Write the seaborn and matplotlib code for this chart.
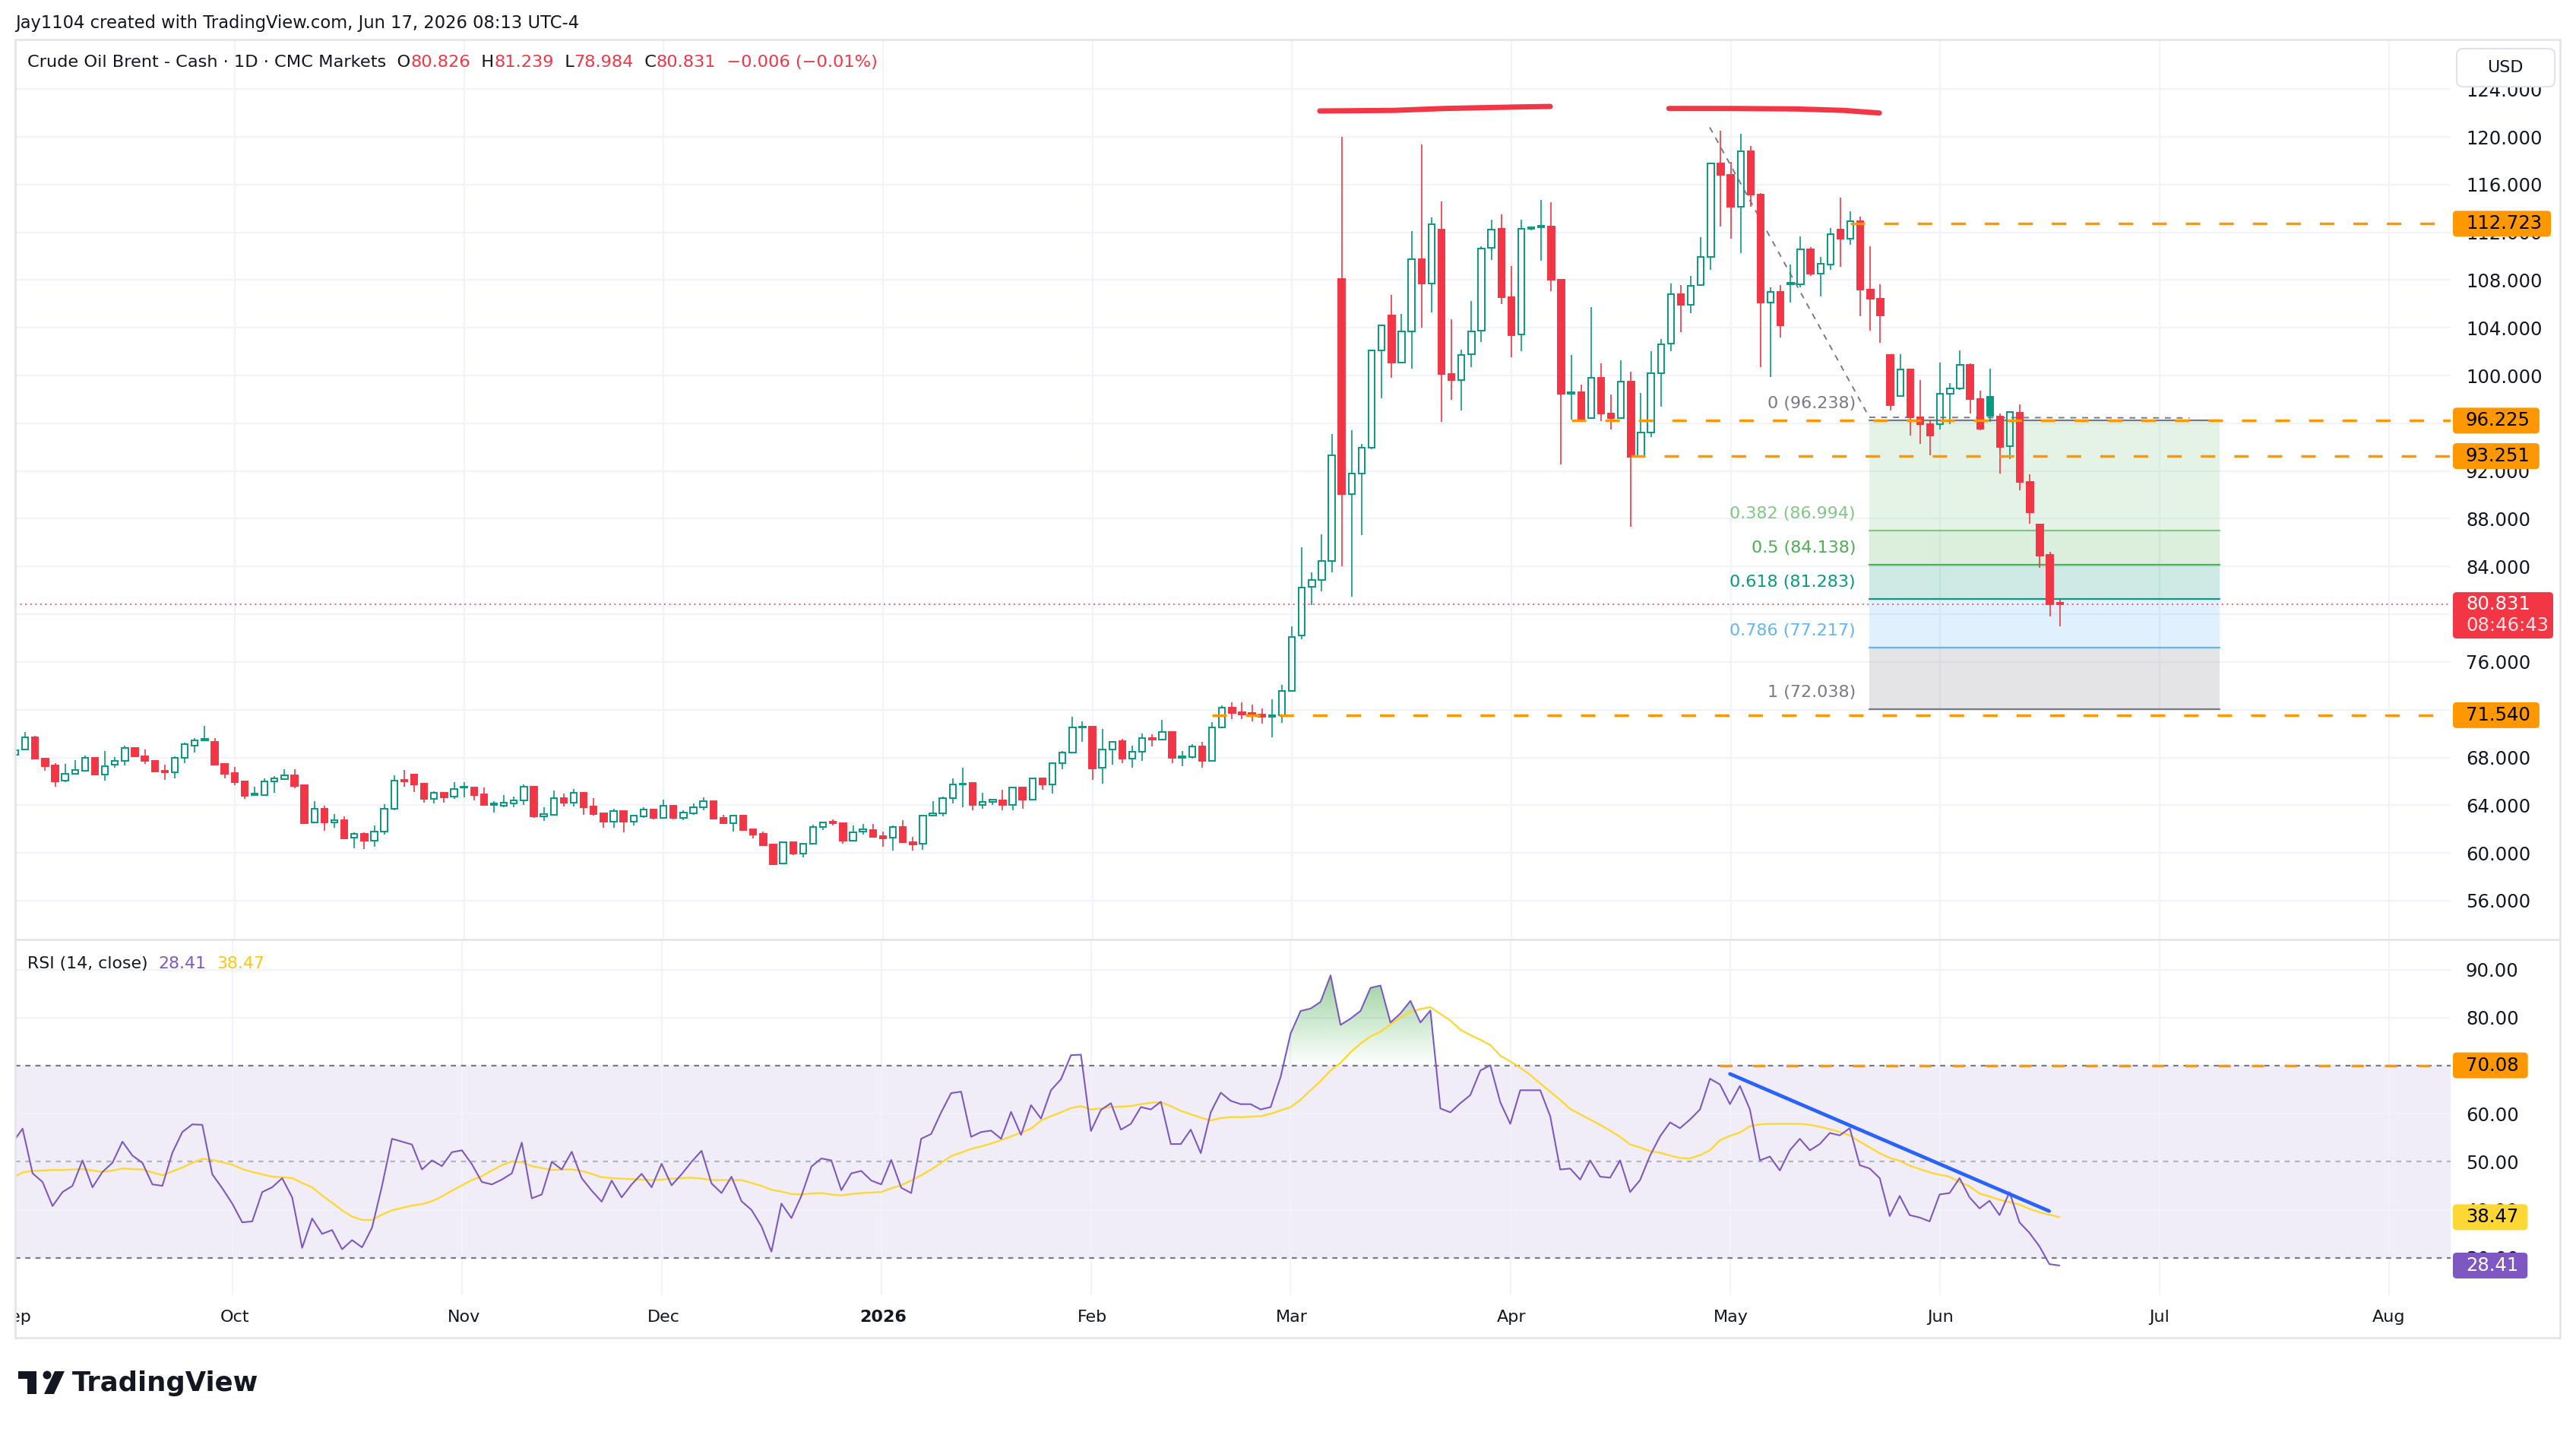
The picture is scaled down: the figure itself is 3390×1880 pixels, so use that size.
import numpy as np
import pandas as pd
import matplotlib
matplotlib.use("Agg")
import matplotlib.pyplot as plt
from matplotlib.patches import FancyBboxPatch, Rectangle, Circle, Polygon
from matplotlib.lines import Line2D
from matplotlib.path import Path
from matplotlib.transforms import IdentityTransform, blended_transform_factory
from matplotlib.ticker import FormatStrFormatter
from matplotlib.colors import to_rgb
import seaborn as sns

# ---------------- data ----------------
# daily bars, 2025-09-01 .. 2026-06-17, index 0..205
opens = [68.2, 68.69, 69.68, 67.90, 67.33, 66.07, 66.60, 66.88, 67.94, 66.56,
         67.41, 67.73, 68.77, 68.11, 67.69, 66.86, 66.73, 67.94, 69.00, 69.54,
         69.28, 67.45, 66.69, 65.99, 64.86, 64.86, 65.97, 66.20, 66.50, 65.67,
         62.54, 63.69, 62.56, 62.73, 61.25, 61.63, 61.04, 61.78, 63.67, 66.11,
         66.56, 65.80, 64.54, 65.01, 64.69, 65.46, 65.48, 64.90, 64.14, 63.97,
         64.14, 64.39, 65.54, 63.08, 63.22, 64.58, 64.22, 65.03, 63.88, 63.33,
         62.63, 63.48, 62.63, 63.08, 63.63, 62.95, 63.93, 62.95, 63.33, 63.86,
         64.33, 62.93, 62.50, 63.12, 61.97, 61.59, 60.70, 59.12, 60.87, 59.97,
         60.74, 62.18, 62.65, 62.48, 61.04, 61.82, 61.91, 61.40, 61.25, 62.20,
         60.93, 60.76, 63.10, 63.35, 64.58, 65.71, 65.86, 64.05, 64.26, 64.39,
         64.05, 65.50, 64.48, 66.22, 65.71, 67.52, 68.41, 70.49, 70.56, 67.13,
         68.64, 69.34, 67.92, 68.47, 69.62, 69.49, 70.11, 67.98, 68.05, 68.90,
         67.69, 70.49, 72.19, 71.77, 71.70, 71.62, 71.40, 71.55, 73.60, 78.20,
         82.30, 82.90, 84.44, 108.10, 90.04, 91.76, 93.95, 102.10, 105.03, 101.08,
         103.70, 109.78, 107.73, 112.23, 100.16, 99.62, 101.81, 103.75, 110.70, 112.30,
         106.56, 103.46, 112.30, 112.42, 112.50, 108.03, 98.45, 98.60, 96.44, 99.84,
         96.84, 96.44, 99.47, 93.22, 95.23, 100.17, 102.65, 106.82, 105.94, 107.59,
         109.93, 117.75, 116.80, 114.13, 118.81, 115.16, 106.09, 107.00, 107.66, 107.66,
         110.59, 108.57, 109.31, 112.23, 111.50, 112.96, 107.19, 106.45, 101.70, 98.30,
         100.50, 96.50, 95.95, 95.95, 98.50, 98.90, 100.90, 98.00, 98.23, 96.55,
         94.10, 96.90, 91.08, 87.50, 84.98, 80.826]
highs = [68.7, 70.13, 69.81, 67.92, 67.50, 67.45, 67.77, 68.15, 67.98, 68.54,
         68.05, 69.00, 68.85, 68.64, 67.75, 67.41, 68.09, 69.22, 69.64, 70.64,
         69.64, 67.50, 67.20, 66.05, 65.54, 66.22, 66.45, 66.99, 66.99, 65.77,
         64.33, 63.95, 63.27, 63.05, 61.72, 61.70, 62.29, 64.07, 66.50, 66.94,
         66.60, 65.85, 65.18, 65.05, 65.92, 65.92, 65.52, 65.50, 64.33, 64.86,
         64.69, 65.75, 65.60, 63.84, 65.22, 64.97, 65.33, 65.12, 64.58, 63.40,
         63.69, 63.55, 63.20, 63.80, 63.70, 64.44, 64.00, 63.58, 64.12, 64.65,
         64.39, 63.20, 63.15, 63.20, 62.00, 61.78, 60.75, 60.93, 60.93, 60.82,
         62.35, 62.63, 62.84, 62.50, 62.27, 62.42, 62.42, 61.78, 62.27, 62.73,
         61.33, 63.16, 64.37, 64.69, 66.24, 67.13, 65.90, 65.03, 64.54, 65.29,
         65.54, 65.55, 66.31, 66.31, 67.58, 68.52, 71.40, 71.02, 70.60, 70.39,
         69.35, 69.54, 69.00, 70.00, 69.96, 71.17, 70.15, 68.52, 69.11, 69.32,
         70.96, 72.36, 72.62, 72.62, 72.40, 72.08, 72.87, 74.10, 79.00, 85.60,
         83.50, 86.70, 95.10, 120.02, 95.40, 94.30, 102.20, 104.30, 106.75, 105.17,
         112.12, 119.36, 113.25, 114.60, 104.74, 102.18, 106.27, 110.84, 113.07, 113.51,
         109.20, 113.04, 112.50, 114.72, 114.50, 108.10, 101.74, 99.25, 105.72, 101.00,
         98.41, 101.26, 100.35, 98.52, 102.07, 103.09, 107.73, 107.59, 108.32, 111.57,
         117.83, 120.53, 117.90, 120.27, 119.25, 115.30, 107.40, 107.59, 109.30, 111.68,
         110.77, 109.93, 112.34, 114.90, 113.77, 113.33, 110.84, 107.66, 101.80, 101.80,
         100.60, 99.60, 96.30, 101.10, 99.40, 102.10, 101.00, 98.70, 100.60, 96.80,
         96.95, 97.60, 91.70, 87.60, 85.20, 81.239]
lows = [68.0, 68.58, 67.85, 66.88, 65.54, 65.92, 66.56, 66.82, 66.50, 66.07,
        67.13, 67.30, 68.05, 67.45, 66.77, 66.14, 66.24, 67.52, 68.41, 69.36,
        67.30, 66.24, 65.67, 64.52, 64.82, 64.82, 65.03, 66.15, 65.43, 62.45,
        62.50, 61.84, 62.10, 61.16, 60.38, 60.34, 60.53, 61.52, 63.60, 65.56,
        65.12, 64.22, 64.12, 64.22, 64.54, 64.65, 64.39, 63.98, 63.37, 63.80,
        63.80, 64.05, 62.95, 62.67, 63.18, 63.90, 63.90, 63.16, 63.12, 62.10,
        62.10, 61.72, 62.27, 62.95, 62.84, 62.90, 62.84, 62.73, 63.16, 63.58,
        62.80, 62.42, 61.78, 61.90, 61.21, 60.62, 58.97, 59.04, 59.80, 59.63,
        60.70, 61.93, 62.31, 60.78, 61.00, 61.52, 61.25, 60.51, 60.19, 60.82,
        60.19, 60.29, 63.05, 63.05, 64.12, 63.80, 63.58, 63.73, 64.05, 63.58,
        63.58, 63.69, 64.45, 65.29, 64.97, 66.99, 68.35, 69.32, 66.14, 65.82,
        67.41, 67.52, 67.16, 67.73, 68.90, 69.45, 67.52, 67.26, 67.88, 67.16,
        67.65, 70.45, 71.23, 71.23, 71.02, 70.81, 69.68, 70.92, 73.50, 77.90,
        80.80, 81.90, 83.53, 84.00, 81.50, 86.60, 93.80, 98.08, 99.80, 101.00,
        100.60, 104.00, 105.28, 96.14, 97.97, 97.06, 100.71, 102.80, 109.67, 106.02,
        101.56, 102.07, 112.20, 109.60, 107.10, 92.56, 96.33, 96.14, 96.40, 96.20,
        95.50, 96.40, 87.30, 93.20, 94.86, 97.42, 102.07, 103.64, 105.21, 107.50,
        108.83, 112.52, 111.50, 110.29, 114.13, 100.71, 99.87, 103.20, 106.09, 107.40,
        108.32, 106.64, 108.87, 109.12, 110.95, 104.99, 103.75, 102.72, 97.10, 98.20,
        95.00, 94.30, 93.30, 95.50, 95.90, 98.80, 96.80, 95.40, 96.10, 91.80,
        93.00, 90.40, 87.60, 83.86, 79.80, 78.984]
closes = [68.6, 69.68, 67.88, 67.28, 66.01, 66.60, 66.92, 67.94, 66.56, 67.24,
          67.73, 68.77, 68.11, 67.73, 66.82, 66.77, 67.94, 69.11, 69.43, 69.43,
          67.37, 66.62, 65.92, 64.78, 64.97, 65.99, 66.24, 66.48, 65.60, 62.50,
          63.69, 62.56, 62.73, 61.21, 61.63, 61.04, 61.76, 63.67, 66.03, 66.01,
          65.75, 64.54, 65.01, 64.65, 65.33, 65.54, 64.86, 64.01, 64.01, 64.22,
          64.39, 65.54, 63.08, 63.24, 64.58, 64.22, 65.03, 63.84, 63.24, 62.63,
          63.48, 62.63, 63.12, 63.63, 62.95, 63.93, 62.95, 63.37, 63.86, 64.33,
          62.88, 62.50, 63.12, 61.93, 61.52, 60.65, 59.08, 60.87, 59.93, 60.74,
          62.20, 62.56, 62.52, 61.04, 61.74, 61.95, 61.35, 61.21, 62.20, 60.89,
          60.72, 63.10, 63.35, 64.58, 65.71, 65.82, 64.05, 64.26, 64.44, 64.05,
          65.50, 64.48, 66.22, 65.71, 67.52, 68.41, 70.49, 70.60, 67.09, 68.64,
          69.32, 67.92, 68.47, 69.62, 69.49, 70.11, 67.98, 68.09, 68.90, 67.69,
          70.49, 72.15, 71.70, 71.62, 71.55, 71.38, 71.55, 73.57, 78.10, 82.25,
          82.87, 84.44, 93.33, 90.04, 91.76, 93.95, 102.10, 104.20, 101.08, 103.70,
          109.78, 107.73, 112.71, 100.16, 99.62, 101.74, 103.71, 110.66, 112.23, 106.56,
          103.38, 112.30, 112.42, 112.50, 108.03, 98.45, 98.60, 96.40, 99.84, 96.80,
          96.44, 99.47, 93.22, 95.23, 100.17, 102.61, 106.82, 105.94, 107.55, 109.93,
          117.75, 116.80, 114.13, 118.81, 115.16, 106.09, 107.00, 104.19, 107.73, 110.59,
          108.57, 109.38, 111.87, 111.50, 112.96, 107.19, 106.45, 105.03, 97.50, 100.50,
          96.50, 95.95, 95.00, 98.50, 98.90, 100.90, 98.00, 95.55, 96.60, 94.05,
          96.93, 91.08, 88.56, 84.94, 80.837, 80.831]

rsi = [54.0, 56.9, 47.6, 45.8, 40.8, 43.7, 45.0, 50.3, 44.7, 47.9,
       49.8, 54.2, 51.3, 49.8, 45.3, 45.0, 51.9, 56.2, 57.8, 57.7,
       47.4, 44.5, 41.3, 37.4, 37.6, 43.7, 44.7, 46.6, 42.6, 32.1,
       38.2, 35.0, 35.8, 31.8, 33.7, 32.2, 36.3, 45.0, 54.8, 54.2,
       53.6, 48.4, 50.3, 49.1, 52.0, 52.4, 49.5, 45.8, 45.3, 46.3,
       47.6, 54.0, 42.4, 43.2, 50.0, 48.4, 52.1, 46.6, 44.0, 41.7,
       46.1, 42.6, 45.3, 47.5, 44.7, 49.6, 45.1, 47.4, 50.0, 52.3,
       45.5, 43.5, 46.9, 41.8, 40.0, 36.6, 31.3, 41.3, 38.3, 42.9,
       49.0, 50.7, 50.3, 44.1, 47.6, 48.1, 46.1, 45.3, 50.4, 44.6,
       43.5, 54.8, 55.8, 60.3, 64.3, 64.6, 55.2, 56.2, 56.5, 54.8,
       60.4, 55.6, 61.8, 59.0, 64.9, 67.2, 72.2, 72.3, 56.4, 60.8,
       62.2, 56.7, 57.9, 61.4, 60.9, 62.5, 53.7, 53.7, 56.7, 51.8,
       60.3, 64.4, 62.7, 62.0, 62.0, 60.9, 61.4, 67.7, 76.7, 81.4,
       81.9, 83.3, 88.8, 78.5, 79.8, 81.4, 86.2, 86.7, 79.0, 80.9,
       83.5, 79.0, 81.5, 61.1, 60.3, 62.2, 63.9, 69.0, 70.1, 62.4,
       57.9, 64.9, 64.9, 64.9, 59.5, 48.4, 48.6, 46.3, 50.3, 46.9,
       46.7, 50.3, 43.7, 46.2, 51.3, 55.3, 58.2, 57.0, 58.8, 60.9,
       67.3, 66.1, 62.0, 65.8, 60.9, 50.3, 51.1, 48.2, 52.4, 54.8,
       52.4, 53.7, 56.0, 55.5, 57.0, 49.3, 48.6, 46.6, 38.7, 42.9,
       38.9, 38.4, 37.6, 43.2, 43.5, 46.6, 42.6, 40.3, 41.9, 38.9,
       43.7, 37.4, 35.2, 32.4, 28.7, 28.41]
rsi_ma = [46.6, 47.8, 48.1, 48.2, 48.3, 48.3, 48.4, 48.5, 48.2, 47.9,
          48.2, 48.6, 48.5, 48.4, 47.8, 47.2, 48.0, 48.8, 49.8, 50.6,
          50.4, 49.9, 49.4, 48.5, 47.9, 47.4, 46.9, 46.8, 46.6, 45.6,
          44.7, 43.0, 41.5, 39.9, 38.6, 37.9, 37.9, 39.0, 39.9, 40.4,
          40.9, 41.2, 41.8, 42.8, 44.0, 45.1, 46.2, 47.0, 48.2, 49.3,
          50.1, 49.9, 49.1, 48.7, 48.3, 48.4, 48.4, 48.1, 47.5, 46.8,
          46.6, 46.5, 46.4, 46.3, 46.2, 46.3, 46.5, 46.6, 46.7, 46.5,
          46.2, 46.2, 46.2, 46.2, 45.6, 45.0, 44.2, 43.8, 43.3, 43.2,
          43.4, 43.5, 43.2, 43.0, 43.3, 43.5, 43.6, 43.7, 44.5, 45.1,
          46.1, 47.2, 48.4, 49.8, 51.2, 51.9, 52.7, 53.2, 53.8, 54.5,
          55.3, 56.1, 56.9, 58.6, 59.5, 60.3, 61.2, 61.6, 60.9, 61.1,
          61.4, 61.5, 61.6, 62.0, 62.3, 62.4, 61.6, 60.6, 59.9, 59.2,
          58.6, 59.1, 59.3, 59.3, 59.4, 59.5, 60.0, 60.7, 61.4, 62.9,
          64.9, 66.8, 69.0, 70.6, 72.8, 74.6, 76.1, 77.1, 78.6, 80.1,
          81.2, 81.8, 82.2, 80.8, 79.4, 77.5, 76.4, 75.4, 74.3, 72.1,
          70.9, 69.6, 68.1, 66.3, 64.6, 62.9, 61.0, 59.9, 58.8, 57.7,
          56.5, 55.2, 53.6, 53.0, 52.2, 51.9, 51.3, 50.8, 50.7, 51.4,
          52.4, 54.5, 55.4, 56.1, 57.4, 57.8, 57.9, 57.9, 57.9, 57.9,
          57.7, 57.3, 56.8, 56.2, 55.5, 54.2, 53.0, 51.8, 50.8, 50.2,
          49.2, 48.5, 47.8, 47.3, 46.9, 45.8, 44.9, 43.4, 42.8, 42.1,
          41.6, 41.1, 40.2, 39.5, 39.0, 38.47]

price_ticks = list(range(56, 125, 4))
rsi_ticks = [30, 40, 50, 60, 70, 80, 90]

# horizontal levels drawn on the chart (price, first bar)
level_prices = [112.723, 96.225, 93.251, 71.540]
level_starts = [184, 156, 162, 120]

# fib retracement
fib_levels = [0, 0.382, 0.5, 0.618, 0.786, 1]
fib_prices = [96.238, 86.994, 84.138, 81.283, 77.217, 72.038]
fib_colors = ["#787b86", "#81c784", "#4caf50", "#089981", "#64b5f6", "#787b86"]
fib_span = [185.9, 221.0]
fib_trend_x = [169.9, 185.9, 218.0]
fib_trend_y = [120.8, 96.5, 96.45]

# hand drawn tops
top1_x = [130.8, 138.2, 143.3, 150.9, 153.9]
top1_y = [122.17, 122.22, 122.38, 122.51, 122.55]
top2_x = [165.8, 172.0, 178.6, 183.3, 186.9]
top2_y = [122.38, 122.38, 122.34, 122.22, 122.0]

rsi_level = 70.08
rsi_level_start = 171
rsi_trend_x = [172.0, 203.97]
rsi_trend_y = [68.3, 39.75]

last_price = 80.831
countdown = "08:46:43"

# ---------------- style ----------------
GREEN, RED = "#089981", "#f23645"
ORANGE, PURPLE, YELLOW = "#ff9800", "#7e57c2", "#fdd835"
TXT, GRID, FRAME = "#131722", "#f0f3fa", "#e0e3eb"

sns.set_theme(style="white")
plt.rcParams["font.family"] = ["DejaVu Sans"]

W, H = 3390, 1880
fig = plt.figure(figsize=(W / 100, H / 100), dpi=100)


def fpos(x0, y0, x1, y1):
    return [x0 / W, 1 - y1 / H, (x1 - x0) / W, (y1 - y0) / H]


ax = fig.add_axes(fpos(20, 54, 3225, 1235))
ax_r = fig.add_axes(fpos(20, 1237, 3225, 1704))
ax_t = fig.add_axes(fpos(20, 1704, 3225, 1760))

dates = pd.bdate_range("2025-09-01", "2026-08-31")
dates = dates[~dates.isin(pd.to_datetime(["2025-12-25", "2026-01-01"]))]
month_pos = [i for i in range(len(dates)) if i == 0 or dates[i].month != dates[i - 1].month]
month_lab = ["2026" if dates[i].month == 1 else dates[i].strftime("%b") for i in month_pos]

XMIN, XMAX = 0.26, 244.18

for a in (ax, ax_r, ax_t):
    a.set_facecolor("none")
    for s in a.spines.values():
        s.set_visible(False)
    a.set_xlim(XMIN, XMAX)
    a.set_xticks(month_pos)
    a.tick_params(axis="x", length=0, labelbottom=False)

for a in (ax, ax_r):
    a.grid(True, color=GRID, lw=1.6, zorder=0)
    a.set_axisbelow(True)
    a.yaxis.tick_right()
    a.tick_params(axis="y", length=0, pad=14.4, labelsize=17.5, labelcolor=TXT)
ax_t.set_yticks([])

# ---------------- price pane ----------------
o, h, l, c = map(np.array, (opens, highs, lows, closes))
idx = np.arange(len(c))
prev = np.r_[o[0], c[:-1]]
col = np.where(c >= prev, GREEN, RED)
hollow = c > o
top = np.maximum(o, c)
bot = np.minimum(o, c)
ax.vlines(idx, top, h, colors=col, lw=1.2, zorder=3)
ax.vlines(idx, l, bot, colors=col, lw=1.2, zorder=3)
face = ["none" if hw else cc for hw, cc in zip(hollow, col)]
ax.bar(idx, np.maximum(top - bot, 0.12), bottom=bot, width=0.64, color=face,
       edgecolor=col, linewidth=1.4, zorder=4)

# fib retracement
for k in range(1, len(fib_prices)):
    ax.fill_between(fib_span, fib_prices[k - 1], fib_prices[k], color=fib_colors[k],
                    alpha=0.2, lw=0, zorder=1)
for lv, p, fc in zip(fib_levels, fib_prices, fib_colors):
    ax.plot(fib_span, [p, p], color=fc, lw=1.6, zorder=2)
    ax.annotate(f"{lv:g} ({p:.3f})", xy=(fib_span[0], p), xytext=(-18, 22),
                textcoords="offset pixels", ha="right", va="center", color=fc,
                fontsize=16, zorder=6)
ax.plot(fib_trend_x, fib_trend_y, color="#787b86", lw=1.4, ls=(0, (4, 4)), zorder=2)

for p, s in zip(level_prices, level_starts):
    ax.plot([s, XMAX], [p, p], color=ORANGE, lw=2.5, ls=(0, (5.5, 7.2)), zorder=5)

ax.axhline(last_price, color=RED, lw=1.1, ls=(0, (1.3, 3)), zorder=5)

for tx, ty in ((top1_x, top1_y), (top2_x, top2_y)):
    ax.plot(tx, ty, color=RED, lw=5, solid_capstyle="round", zorder=6)

ax.set_ylim(52.81, 128.03)
ax.set_yticks(price_ticks)
ax.yaxis.set_major_formatter(FormatStrFormatter("%.3f"))

# ---------------- RSI pane ----------------
rsi_a = np.array(rsi)
ax_r.axhspan(30, 70, color=PURPLE, alpha=0.1, lw=0, zorder=0)
for v, cc in ((70, "#787b86"), (50, "#b2b5be"), (30, "#787b86")):
    ax_r.axhline(v, color=cc, lw=1.6, ls=(0, (3, 3)), zorder=1)

ob = ax_r.fill_between(idx, 70, rsi_a, where=rsi_a >= 70, interpolate=True,
                       color="none", lw=0)
clip = Path.make_compound_path(*ob.get_paths())
grad = np.zeros((256, 1, 4))
grad[..., :3] = to_rgb("#4caf50")
grad[:, 0, 3] = np.linspace(0.0, 0.6, 256)
im = ax_r.imshow(grad, extent=(0, len(idx) - 1, 70, 90), origin="lower",
                 aspect="auto", zorder=2, interpolation="bilinear")
im.set_clip_path(clip, transform=ax_r.transData)

sns.lineplot(x=idx, y=rsi_ma, ax=ax_r, color=YELLOW, lw=1.7, zorder=3)
sns.lineplot(x=idx, y=rsi, ax=ax_r, color=PURPLE, lw=1.5, zorder=4)
ax_r.plot([rsi_level_start, XMAX], [rsi_level, rsi_level], color=ORANGE, lw=2.5,
          ls=(0, (4.6, 8)), zorder=5)
ax_r.plot(rsi_trend_x, rsi_trend_y, color="#2962ff", lw=3.4, solid_capstyle="round", zorder=6)

ax_r.set_xlim(XMIN, XMAX)
ax_r.set_ylim(22.23, 96.12)
ax_r.set_yticks(rsi_ticks)
ax_r.yaxis.set_major_formatter(FormatStrFormatter("%.2f"))
ax_r.set_xlabel("")
ax_r.set_ylabel("")

# ---------------- time axis ----------------
tt = blended_transform_factory(ax_t.transData, ax_t.transAxes)
for pos, lab in zip(month_pos, month_lab):
    ax_t.text(pos, 0.48, lab, transform=tt, ha="center", va="center", fontsize=16,
              color=TXT, fontweight="bold" if lab == "2026" else "normal", clip_on=True)

# ---------------- frame ----------------
for (x0, y0, x1, y1) in ((20, 52, 3369, 52), (20, 1236, 3369, 1236), (20, 1760, 3369, 1760),
                         (20, 52, 20, 1760), (3369, 52, 3369, 1760)):
    fig.add_artist(Line2D([x0 / W, x1 / W], [1 - y0 / H, 1 - y1 / H], color=FRAME, lw=1.8))

# ---------------- tags on the scales ----------------
rend = fig.canvas.get_renderer()


def tag(axis, value, label, fc, tc, hgt=34):
    y = axis.transData.transform((0, value))[1]
    t = fig.text(3245 / W, y / H, label, color=tc, fontsize=17.5, va="center", ha="left", zorder=7)
    bb = t.get_window_extent(rend)
    fig.add_artist(FancyBboxPatch((3228, y - hgt / 2), bb.x1 + 12 - 3228, hgt,
                                  boxstyle="round,pad=0,rounding_size=5",
                                  transform=IdentityTransform(), fc=fc, ec="none", zorder=6))


for p in level_prices:
    tag(ax, p, f"{p:.3f}", ORANGE, "black")

y_last = ax.transData.transform((0, last_price))[1]
fig.add_artist(FancyBboxPatch((3228, y_last - 45), 132, 61, boxstyle="round,pad=0,rounding_size=5",
                              transform=IdentityTransform(), fc=RED, ec="none", zorder=6))
fig.text(3245 / W, y_last / H, f"{last_price:.3f}", color="white", fontsize=17.5, va="center", zorder=7)
fig.text(3245 / W, (y_last - 28) / H, countdown, color="#fde3e5", fontsize=17.5, va="center", zorder=7)

tag(ax_r, rsi_level, f"{rsi_level:.2f}", ORANGE, "black")
tag(ax_r, rsi_ma[-1], f"{rsi_ma[-1]:.2f}", YELLOW, "black")
tag(ax_r, rsi[-1], f"{rsi[-1]:.2f}", PURPLE, "white")

fig.add_artist(FancyBboxPatch((3233, H - 114), 129, 50, boxstyle="round,pad=0,rounding_size=8",
                              transform=IdentityTransform(), fc="white", ec=FRAME, lw=1.5, zorder=6))
fig.text(3297 / W, 1 - 89 / H, "USD", ha="center", va="center", fontsize=16, color=TXT, zorder=7)


# ---------------- header / legends ----------------
def segments(x, y, parts, size):
    for s, cc in parts:
        t = fig.text(x / W, 1 - y / H, s, color=cc, fontsize=size, va="center", ha="left")
        x = t.get_window_extent(rend).x1


fig.text(20 / W, 1 - 30 / H, "Jay1104 created with TradingView.com, Jun 17, 2026 08:13 UTC-4",
         fontsize=16.3, color=TXT, va="center")
o_, h_, l_, c_ = opens[-1], highs[-1], lows[-1], closes[-1]
chg = c_ - closes[-2]
segments(36, 82, [("Crude Oil Brent - Cash · 1D · CMC Markets  O", TXT), (f"{o_:.3f}", RED),
                  ("  H", TXT), (f"{h_:.3f}", RED), ("  L", TXT), (f"{l_:.3f}", RED),
                  ("  C", TXT), (f"{c_:.3f}", RED),
                  (f"  \u2212{abs(chg):.3f} (\u2212{abs(chg) / closes[-2] * 100:.2f}%)", RED)], 16.2)
segments(36, 1268, [("RSI (14, close)  ", TXT), (f"{rsi[-1]:.2f}", PURPLE),
                    ("  ", TXT), (f"{rsi_ma[-1]:.2f}", "#f9c80e")], 15.8)

# ---------------- logo ----------------
ink = "#131722"
fig.add_artist(Rectangle((24, H - 1814), 24, 10, transform=IdentityTransform(), fc=ink, ec="none"))
fig.add_artist(Rectangle((36, H - 1834), 12, 30, transform=IdentityTransform(), fc=ink, ec="none"))
fig.add_artist(Circle((62, H - 1809), 5.5, transform=IdentityTransform(), fc=ink, ec="none"))
fig.add_artist(Polygon([(58, H - 1834), (71, H - 1834), (85, H - 1804), (72, H - 1804)],
                       closed=True, transform=IdentityTransform(), fc=ink, ec="none"))
fig.text(95 / W, 1 - 1820 / H, "TradingView", fontsize=25.5, fontweight="bold", color=ink, va="center")

fig.savefig("out.png", dpi=100, facecolor="white")
